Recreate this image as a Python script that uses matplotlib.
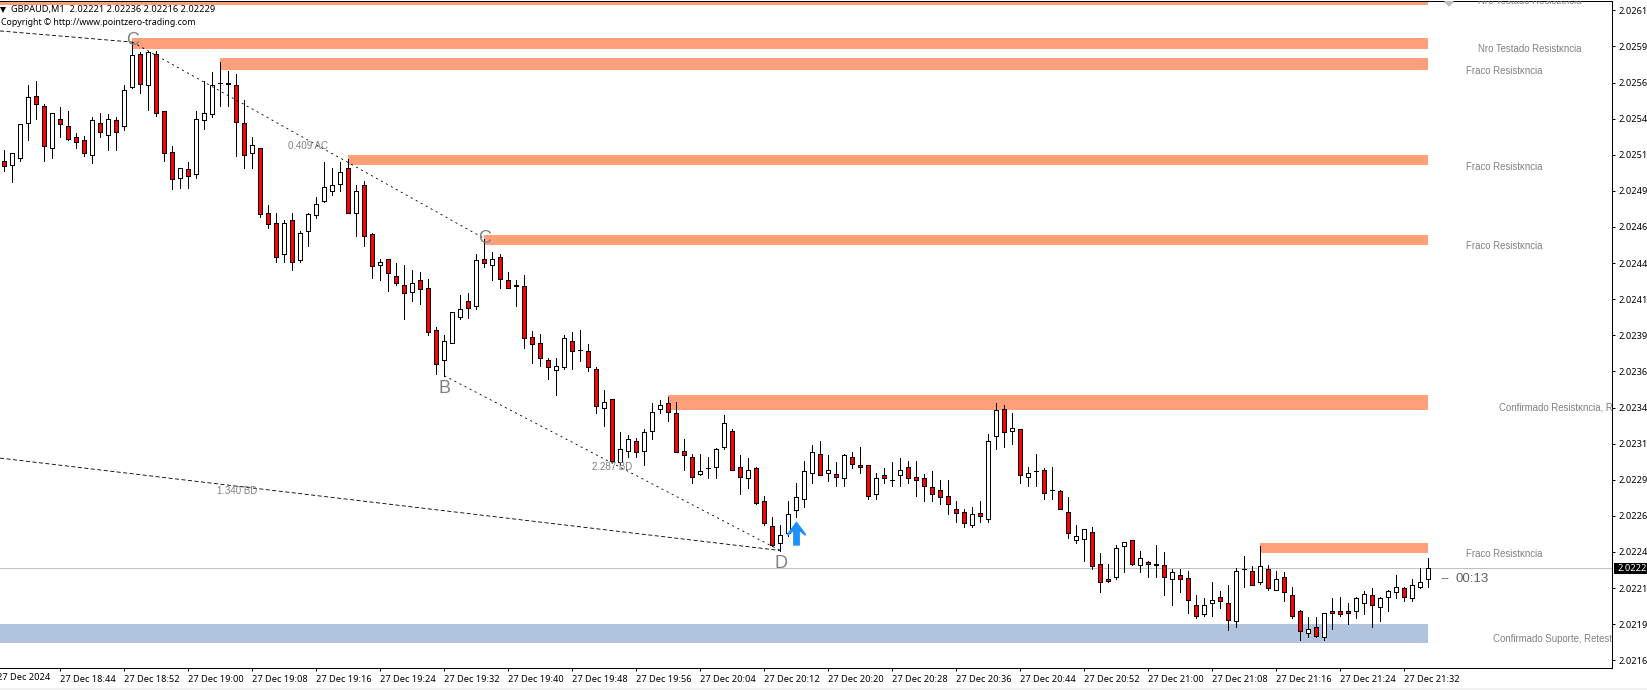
import matplotlib
matplotlib.use("Agg")
import matplotlib.pyplot as plt
import numpy as np
from matplotlib.path import Path
from matplotlib.patches import Rectangle

# Quotes in points above 2.02000 (1 point = 0.00001)
BASE = 2.02
opens = [511,508,513,537,556,549,520,540,535,527,
525,515,537,529,539,535,562,585,563,585,
545,517,499,505,502,539,543,565,565,563,
537,516,520,475,468,446,470,442,462,473,
483,490,495,506,475,494,460,439,443,431,
425,420,428,423,394,373,385,403,414,410,
443,439,444,428,424,424,389,385,373,366,
368,386,380,379,367,340,346,302,310,317,
310,324,339,343,336,310,306,294,298,299,
313,324,299,291,298,275,258,246,253,269,
277,295,308,295,294,291,306,300,300,280,
293,290,293,299,292,291,285,283,279,270,
268,259,267,263,320,339,324,325,292,296,
297,283,282,268,248,249,254,232,221,223,
244,248,231,233,231,231,221,224,222,203,
197,205,209,205,192,228,227,219,228,214,
223,210,199,184,188,181,199,199,199,199,
205,210,202,209,212,215,208,216,221]
closes = [507,516,536,555,550,521,544,536,526,524,
516,539,531,540,531,560,584,564,586,544,
516,498,506,500,540,544,563,565,564,538,
515,522,474,467,444,468,441,461,474,481,
493,494,503,475,490,459,438,441,433,426,
419,426,422,392,370,386,406,408,409,442,
440,443,429,423,425,388,384,374,368,369,
388,379,380,368,341,344,303,311,318,309,
323,337,342,337,309,307,292,296,298,311,
329,297,292,297,274,260,245,252,266,278,
296,309,293,297,292,307,301,299,279,291,
291,290,297,291,290,286,280,278,273,267,
260,266,265,317,338,323,326,293,295,296,
281,283,270,253,251,256,230,219,220,243,
247,232,236,232,232,223,226,221,207,196,
203,207,206,193,227,228,217,230,215,221,
212,196,185,187,182,198,198,197,198,208,
211,203,208,213,216,209,217,219,229]
highs = [518,516,536,563,566,550,544,548,545,530,
528,541,544,543,541,563,593,586,587,587,
545,521,506,510,545,566,572,579,573,571,
553,527,520,480,475,470,475,462,475,486,
510,506,510,512,494,497,461,443,443,440,
439,435,434,429,396,390,406,418,419,446,
457,448,446,434,428,432,393,391,374,374,
390,392,394,384,368,352,346,323,321,319,
325,343,345,347,344,318,308,308,306,312,
335,325,307,305,299,279,264,259,275,288,
303,314,317,307,302,308,309,313,300,295,
298,302,305,303,303,294,296,290,290,275,
270,271,275,322,343,342,336,325,299,308,
298,299,283,278,259,256,257,239,232,245,
247,248,241,234,245,240,228,228,227,210,
208,219,213,217,229,237,230,244,231,227,
226,216,200,195,195,198,208,209,205,209,
213,215,209,214,224,216,221,229,236]
lows = [504,496,511,525,540,511,513,527,525,520,
514,509,527,518,518,532,561,558,546,542,
511,491,492,492,499,533,541,549,549,514,
506,506,472,464,441,441,435,441,452,471,
482,487,490,475,459,452,430,428,421,425,
401,414,412,390,363,362,385,401,402,408,
437,428,423,423,410,381,371,369,360,349,
367,367,372,365,336,327,302,300,306,306,
300,318,336,331,309,297,288,293,291,291,
311,297,280,284,273,259,244,241,251,264,
271,288,293,289,286,286,298,295,277,277,
288,286,286,288,279,275,275,273,266,261,
257,257,261,261,311,313,315,288,286,286,
277,277,270,250,246,234,228,212,219,221,
226,231,226,223,223,210,203,212,198,194,
196,196,201,186,188,216,217,218,214,214,
206,194,179,181,181,179,187,196,190,194,
197,188,192,199,208,206,206,215,216]

zone_start = [-1, 16, 27, 43, 60, 83, 157, -1]
zone_low = [618.7, 588.2, 573.7, 507.9, 452.5, 338.3, 239.5, 176.9]
zone_high = [640, 595.8, 582, 514.8, 459.4, 348.7, 246.2, 190.1]
zone_color = ['#FFA07A'] * 7 + ['#B0C4DE']
LAST = 178

zone_labels = ["Nro Testado Resistκncia", "Nro Testado Resistκncia", "Fraco Resistκncia",
               "Fraco Resistκncia", "Fraco Resistκncia", "Confirmado Resistκncia, R",
               "Fraco Resistκncia", "Confirmado Suporte, Retest"]
zone_label_x = [1478, 1478, 1466, 1466, 1466, 1499, 1466, 1493]
zone_label_y = [1, 49, 71, 167, 246.5, 408, 554, 639]

leg1_x, leg1_y = [-0.54, 16], [600.7, 593]
leg2_x, leg2_y = [16, 60], [593, 457]
leg3_x, leg3_y = [55, 97], [362, 241]
leg4_x, leg4_y = [-0.54, 97], [305, 241]

letters = ["C", "C", "B", "D"]
letter_pos = [(133, 40.5), (485, 238.5), (445, 388.5), (780.7, 563.5)]
ratios = ["0.409 AC", "2.287 BD", "1.340 BD"]
ratio_pos = [(308, 146), (612, 467), (237, 491)]

signal_i, signal_pts = [99], [253]
current_pts = 229

yticks_pts = [615 - 25 * k for k in range(19)]
first_time_label = "27 Dec 2024"
xtick_i = list(range(7, 176, 8))
xtick_labels = ["27 Dec 18:44", "27 Dec 18:52", "27 Dec 19:00", "27 Dec 19:08", "27 Dec 19:16", "27 Dec 19:24",
                "27 Dec 19:32", "27 Dec 19:40", "27 Dec 19:48", "27 Dec 19:56", "27 Dec 20:04", "27 Dec 20:12",
                "27 Dec 20:20", "27 Dec 20:28", "27 Dec 20:36", "27 Dec 20:44", "27 Dec 20:52", "27 Dec 21:00",
                "27 Dec 21:08", "27 Dec 21:16", "27 Dec 21:24", "27 Dec 21:32"]

W, H = 1647, 690
PX = 0.72
UI_FONT = ['Noto Sans', 'DejaVu Sans']
LBL_FONT = ['Liberation Sans', 'DejaVu Sans']
UI_SIZE = 6.65
plt.rcParams['lines.scale_dashes'] = False


def P(a):
    return BASE + np.asarray(a, dtype=float) / 1e5


def X(px):
    return (px - 4.33) / 8


def Y(py):
    return P(615 - (py - 10.3) * 0.6923)


fig = plt.figure(figsize=(W / 100, H / 100), dpi=100, facecolor='white')
ax_top, ax_bot, ax_right = 1.0, 668.0, 1612.0
ax = fig.add_axes([0, 1 - ax_bot / H, ax_right / W, (ax_bot - ax_top) / H])
ax.set_xlim(X(0), X(ax_right))
ax.set_ylim(Y(ax_bot), Y(ax_top))

for s, lo, hi, c in zip(zone_start, zone_low, zone_high, zone_color):
    ax.add_patch(Rectangle((s, P(lo)), LAST - s, P(hi) - P(lo), facecolor=c, edgecolor='none', zorder=1))

ax.axhline(P(current_pts), color='#C0C0C0', lw=PX, zorder=2, antialiased=False)

idx = np.arange(len(opens))
o, c, h, l = map(np.array, (opens, closes, highs, lows))
ax.vlines(idx, P(l), P(h), colors='black', lw=PX, zorder=3, antialiased=False)
bottoms = np.minimum(o, c)
heights = P(np.maximum(o, c)) - P(bottoms)
colors = ['#FF0000' if a > b else 'white' for a, b in zip(o, c)]
ax.bar(idx, heights, bottom=P(bottoms), width=0.5, color=colors, edgecolor='black', linewidth=PX,
       zorder=4, antialiased=False)

for xs, ys, ds in [(leg1_x, leg1_y, (2.9, 1.8)), (leg2_x, leg2_y, (1.5, 2.6)),
                   (leg3_x, leg3_y, (1.5, 2.6)), (leg4_x, leg4_y, (2.9, 1.8))]:
    ax.plot(xs, P(ys), color='black', lw=0.62, dashes=ds, zorder=5, antialiased=True)

for t, (px, py) in zip(letters, letter_pos):
    ax.text(X(px), Y(py), t, color='#808080', fontsize=13, family=LBL_FONT, ha='center', va='center', zorder=6)
for t, (px, py) in zip(ratios, ratio_pos):
    ax.text(X(px), Y(py), t, color='#808080', fontsize=7, family=LBL_FONT, ha='center', va='center', zorder=6)
for t, px, py in zip(zone_labels, zone_label_x, zone_label_y):
    ax.text(X(px), Y(py), t, color='#808080', fontsize=6.9, family=LBL_FONT, ha='left', va='center',
            zorder=6, clip_on=True)

ax.plot([X(1449)], [Y(2)], marker='D', ms=5.2, color='#C0C0C0', mew=0, zorder=6)

arrow = Path([(0, 1), (0.79, -0.05), (0.72, -0.2), (0.28, 0.15), (0.28, -1), (-0.28, -1), (-0.28, 0.15),
              (-0.72, -0.2), (-0.79, -0.05), (0, 1)], closed=True)
ax.plot(signal_i, P(signal_pts), linestyle='none', marker=arrow, ms=17.5, color='#1E90FF', mew=0, zorder=7)

ax.text(X(1440), Y(579), "--", color='#606060', fontsize=9.5, family=LBL_FONT, ha='left', va='center', zorder=6)
ax.text(X(1456), Y(579), "00:13", color='#606060', fontsize=9.5, family=LBL_FONT, ha='left', va='center', zorder=6)

ax.spines['left'].set_visible(False)
for s in ('top', 'right', 'bottom'):
    ax.spines[s].set_linewidth(PX)
ax.yaxis.tick_right()
ax.set_yticks(P(yticks_pts))
ax.set_yticklabels([f"{v:.5f}" for v in P(yticks_pts)], family=UI_FONT, fontsize=UI_SIZE, color='black')
ax.set_xticks(xtick_i)
ax.set_xticklabels(xtick_labels, family=UI_FONT, fontsize=UI_SIZE, color='black', ha='left')
ax.tick_params(axis='y', length=2.2, width=PX, pad=2.2)
ax.tick_params(axis='x', length=2.2, width=PX, pad=2.5)

fig.text(-3 / W, 1 - 677.5 / H, first_time_label, family=UI_FONT, fontsize=UI_SIZE, color='black', ha='left', va='center')

fig.text(11 / W, 1 - 9.3 / H, "GBPAUD,M1  2.02221 2.02236 2.02216 2.02229", family=UI_FONT, fontsize=UI_SIZE,
         color='black', ha='left', va='center')
fig.text(1 / W, 1 - 22.7 / H, "Copyright © http://www.pointzero-trading.com", family=UI_FONT, fontsize=6.35,
         color='black', ha='left', va='center')
ax.plot([X(3)], [Y(10)], marker='v', ms=4.5, color='black', mew=0, zorder=8)

fig.add_artist(Rectangle((1614 / W, 1 - 573.7 / H), 33 / W, 10.4 / H, transform=fig.transFigure,
                         facecolor='black', edgecolor='none'))
fig.text(1618 / W, 1 - 568.5 / H, f"{P(current_pts):.5f}", family=UI_FONT, fontsize=UI_SIZE, color='white',
         ha='left', va='center', clip_on=True)
fig.add_artist(Rectangle((0, 0), 1, 2 / H, transform=fig.transFigure, facecolor='#F0F0F0', edgecolor='none'))

fig.savefig("out.png", dpi=100, facecolor='white')
